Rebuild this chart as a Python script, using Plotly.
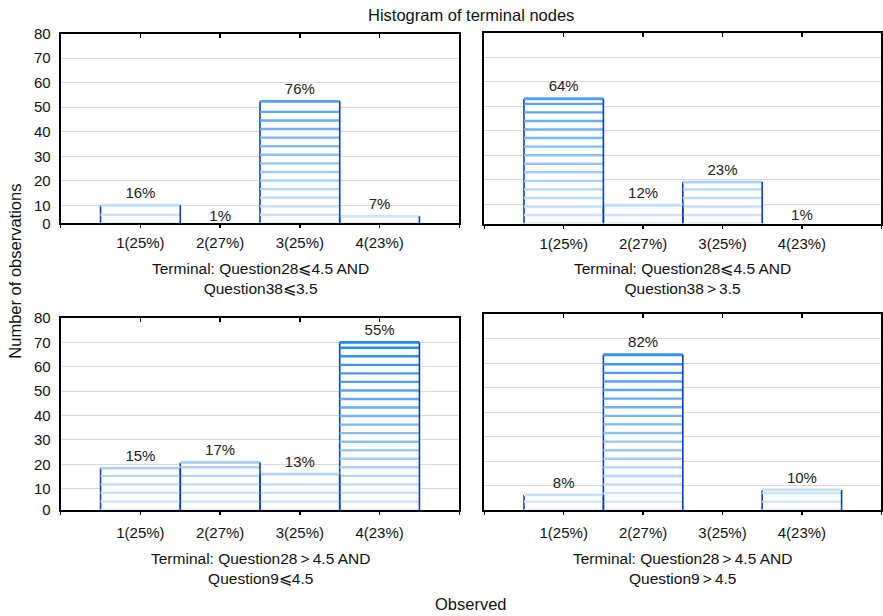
import plotly.graph_objects as go

# ---------------- data ----------------
categories = ["1(25%)", "2(27%)", "3(25%)", "4(23%)"]
cat_pos = [1, 2, 3, 4]

counts_tl = [10, 0.7, 52.4, 5.5]
pct_tl = ["16%", "1%", "76%", "7%"]
counts_tr = [53.1, 9.5, 19, 0.6]
pct_tr = ["64%", "12%", "23%", "1%"]
counts_bl = [18.5, 20.8, 16, 70]
pct_bl = ["15%", "17%", "13%", "55%"]
counts_br = [6.3, 63.4, 0, 8.3]
pct_br = ["8%", "82%", "", "10%"]

subtitles = [
    "Terminal: Question28\u2a7d4.5 AND<br>Question38\u2a7d3.5",
    "Terminal: Question28\u2a7d4.5 AND<br>Question38\u2009>\u20093.5",
    "Terminal: Question28\u2009>\u20094.5 AND<br>Question9\u2a7d4.5",
    "Terminal: Question28\u2009>\u20094.5 AND<br>Question9\u2009>\u20094.5",
]
y_tick_vals = [10, 20, 30, 40, 50, 60, 70, 80]
y_max = 80

title_text = "Histogram of terminal nodes"
x_title = "Observed"
y_title = "Number of observations"

# ---------------- layout geometry (pixels) ----------------
W, H = 883, 616
# (x0, x1, ytop, ybottom) in pixels
boxes = [
    (60.7, 459.3, 33.7, 223.4),
    (484.3, 881.3, 33.0, 223.6),
    (60.7, 459.3, 318.0, 510.0),
    (484.3, 881.3, 314.0, 510.3),
]
y_floor = [2.6, 2.0, 1.3, 0.0]
label_standoff = [2, 2, 5, 5]

panels = [
    (counts_tl, pct_tl),
    (counts_tr, pct_tr),
    (counts_bl, pct_bl),
    (counts_br, pct_br),
]

FONT = "Liberation Sans, Arial, Helvetica, sans-serif"
EDGE = "#0b3fc2"
LIGHT = (221, 236, 253)
DARK = (38, 135, 237)
STEP = 3.5


def level_color(v):
    t = max(0.0, min(1.0, v / 70.0))
    r = round(LIGHT[0] + (DARK[0] - LIGHT[0]) * t)
    g = round(LIGHT[1] + (DARK[1] - LIGHT[1]) * t)
    b = round(LIGHT[2] + (DARK[2] - LIGHT[2]) * t)
    return f"rgb({r},{g},{b})"


fig = go.Figure()
layout = dict()

for p, (vals, pcts) in enumerate(panels):
    n = p + 1
    xa = "x" if n == 1 else f"x{n}"
    ya = "y" if n == 1 else f"y{n}"
    fl = y_floor[p]

    # white bar body (hides grid inside bars)
    fig.add_trace(go.Bar(x=cat_pos, y=vals, width=1, xaxis=xa, yaxis=ya,
                         marker=dict(color="white", line=dict(width=0)),
                         hoverinfo="skip", showlegend=False))

    # left edges (drawn beneath the stripes)
    lx, ly = [], []
    for c, v in zip(cat_pos, vals):
        if v > fl:
            lx += [c - 0.5, c - 0.5, None]
            ly += [fl, v, None]
    fig.add_trace(go.Scatter(x=lx, y=ly, mode="lines", xaxis=xa, yaxis=ya,
                             line=dict(color=EDGE, width=1.6),
                             hoverinfo="skip", showlegend=False))

    # horizontal stripes
    vmax = max(vals)
    k = 0
    while fl + k * STEP < vmax:
        lv = fl + k * STEP
        sx, sy = [], []
        for c, v in zip(cat_pos, vals):
            if lv <= v - 1.0:
                sx += [c - 0.5, c + 0.5, None]
                sy += [lv, lv, None]
        if sx:
            fig.add_trace(go.Scatter(x=sx, y=sy, mode="lines", xaxis=xa, yaxis=ya,
                                     line=dict(color=level_color(lv), width=2.4),
                                     hoverinfo="skip", showlegend=False))
        k += 1

    # top edges
    for c, v in zip(cat_pos, vals):
        if v > fl:
            fig.add_trace(go.Scatter(x=[c - 0.5, c + 0.5], y=[v, v], mode="lines",
                                     xaxis=xa, yaxis=ya,
                                     line=dict(color=level_color(v), width=2.8),
                                     hoverinfo="skip", showlegend=False))

    # right edges
    rx, ry = [], []
    for c, v in zip(cat_pos, vals):
        if v > fl:
            rx += [c + 0.5, c + 0.5, None]
            ry += [fl, v, None]
    fig.add_trace(go.Scatter(x=rx, y=ry, mode="lines", xaxis=xa, yaxis=ya,
                             line=dict(color=EDGE, width=1.6),
                             hoverinfo="skip", showlegend=False))

    # percentage labels
    fig.add_trace(go.Scatter(x=cat_pos, y=vals, text=pcts, mode="markers+text",
                             textposition="top center", cliponaxis=True,
                             marker=dict(size=4, color="rgba(0,0,0,0)"),
                             xaxis=xa, yaxis=ya,
                             textfont=dict(family=FONT, size=15, color="#222"),
                             hoverinfo="skip", showlegend=False))

    x0, x1, yt, yb = boxes[p]
    xdom = [x0 / W, x1 / W]
    ydom = [1 - yb / H, 1 - yt / H]

    layout[f"xaxis{n if n > 1 else ''}"] = dict(
        domain=xdom, anchor=ya, range=[0, 5],
        tickvals=[0] + cat_pos + [5], ticktext=[""] + categories + [""],
        ticks="outside", ticklen=3, tickwidth=1.5, tickcolor="black",
        ticklabelstandoff=label_standoff[p],
        showline=True, linewidth=2, linecolor="black", mirror=True,
        showgrid=False, zeroline=False, fixedrange=True, automargin=False,
        tickfont=dict(family=FONT, size=15, color="#111"),
    )
    layout[f"yaxis{n if n > 1 else ''}"] = dict(
        domain=ydom, anchor=xa, range=[fl, y_max],
        tickvals=[fl] + y_tick_vals, ticktext=["0"] + [str(t) for t in y_tick_vals],
        showticklabels=(p % 2 == 0), ticks="", ticklabelstandoff=5,
        showline=True, linewidth=2, linecolor="black", mirror=True,
        showgrid=True, gridcolor="#d9d9d9", gridwidth=1, zeroline=False,
        fixedrange=True, automargin=False,
        tickfont=dict(family=FONT, size=15, color="#111"),
    )

    # top inside tick marks via overlay axis
    m = n + 4
    layout[f"xaxis{m}"] = dict(
        overlaying=xa, anchor=ya, side="top", range=[0, 5],
        tickvals=cat_pos, ticks="inside", ticklen=4, tickwidth=1.5,
        tickcolor="black", showticklabels=False, showline=False,
        showgrid=False, zeroline=False, fixedrange=True, automargin=False,
    )
    fig.add_trace(go.Scatter(x=[None], y=[None], xaxis=f"x{m}", yaxis=ya,
                             mode="markers", hoverinfo="skip", showlegend=False))

annotations = []
for p, txt in enumerate(subtitles):
    x0, x1, yt, yb = boxes[p]
    cy = 278.5 if p < 2 else 568.3
    annotations.append(dict(
        text=txt, x=(x0 + x1) / 2 / W, y=1 - cy / H, xref="paper", yref="paper",
        xanchor="center", yanchor="middle", showarrow=False, align="center",
        font=dict(family=FONT, size=15.5, color="#111"),
    ))

annotations.append(dict(text=title_text, x=471.4 / W, y=1 - 15 / H,
                        xref="paper", yref="paper", xanchor="center", yanchor="middle",
                        showarrow=False, font=dict(family=FONT, size=16.5, color="#111")))
annotations.append(dict(text=x_title, x=471.4 / W, y=1 - 604 / H,
                        xref="paper", yref="paper", xanchor="center", yanchor="middle",
                        showarrow=False, font=dict(family=FONT, size=16.5, color="#111")))
annotations.append(dict(text=y_title, x=15 / W, y=1 - 271.7 / H, textangle=-90,
                        xref="paper", yref="paper", xanchor="center", yanchor="middle",
                        showarrow=False, font=dict(family=FONT, size=16.5, color="#111")))

fig.update_layout(
    width=W, height=H,
    margin=dict(l=0, r=0, t=0, b=0, pad=0, autoexpand=False),
    paper_bgcolor="white", plot_bgcolor="white",
    bargap=0, barmode="overlay",
    annotations=annotations,
    showlegend=False,
    hovermode=False,
    **layout,
)

fig.write_html(
    "out.html",
    config={"displayModeBar": False, "staticPlot": True},
    post_script="document.body.style.margin='0';document.body.style.overflow='hidden';",
)
